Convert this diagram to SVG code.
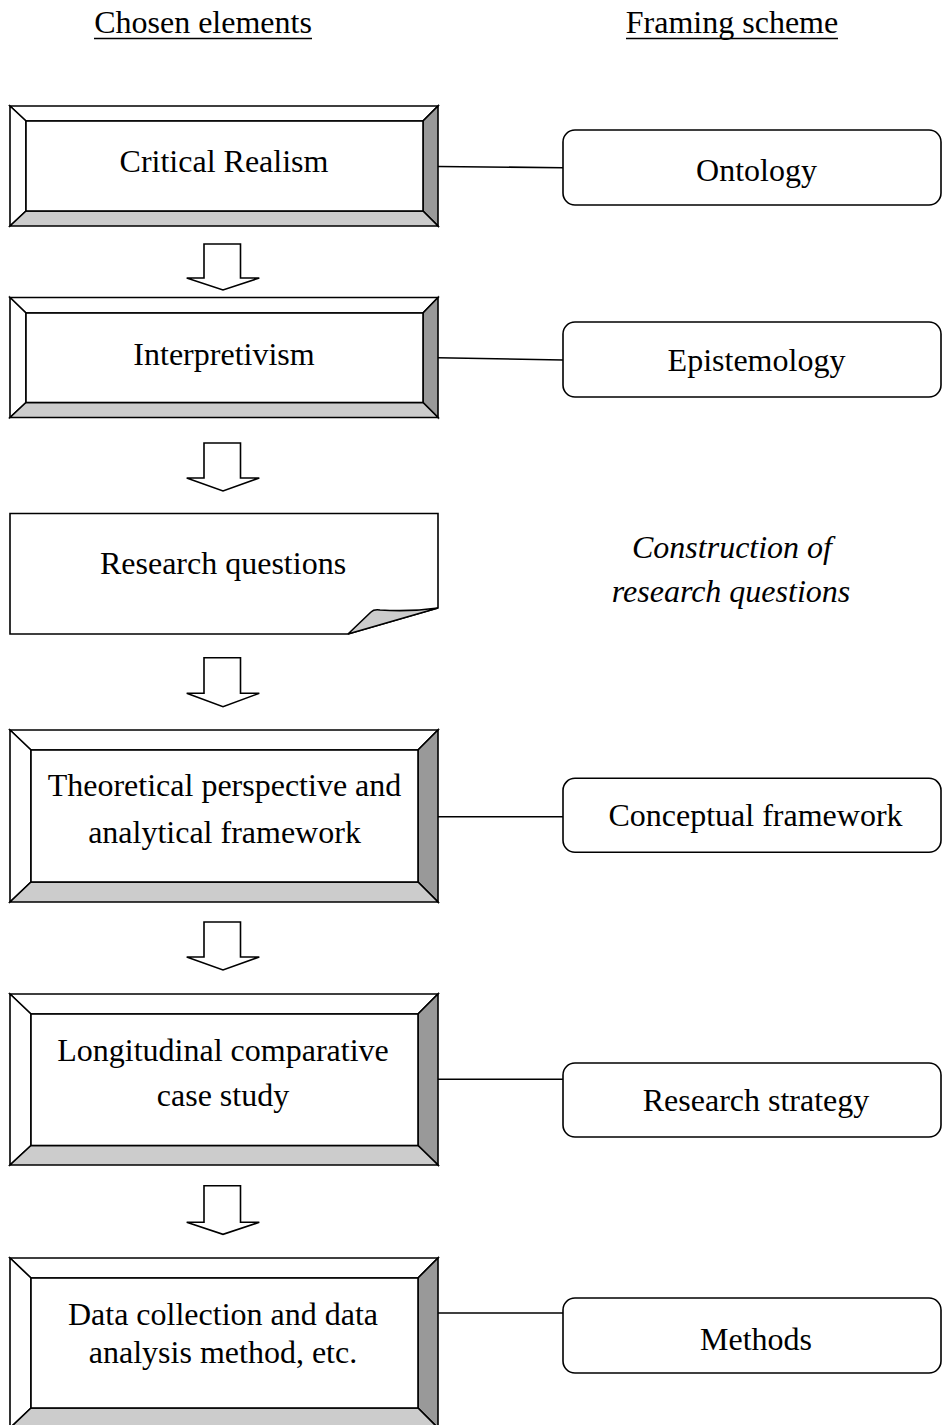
<svg xmlns="http://www.w3.org/2000/svg" width="942" height="1425" viewBox="0 0 942 1425">
<style>
text{font-family:"Liberation Serif","Times New Roman",serif;font-size:32px;fill:#000;text-anchor:middle}
.it{font-style:italic}
.s{stroke:#000;stroke-width:1.6;stroke-linejoin:miter}
.w{fill:#fff}
.d{fill:#999}
.l{fill:#ccc}
.rb{fill:#fff;stroke:#000;stroke-width:1.6}
.cn{stroke:#000;stroke-width:1.6;fill:none}
.ar{fill:#fff;stroke:#000;stroke-width:1.6;stroke-linejoin:miter}
</style>
<rect width="942" height="1425" fill="#fff"/>
<g id="headers">
<text x="203" y="33">Chosen elements</text>
<line x1="94" y1="38.5" x2="312" y2="38.5" stroke="#000" stroke-width="1.6"/>
<text x="732" y="33">Framing scheme</text>
<line x1="626" y1="38.5" x2="838" y2="38.5" stroke="#000" stroke-width="1.6"/>
</g>
<g id="connectors">
<line class="cn" x1="438" y1="166.5" x2="563" y2="167.7"/>
<line class="cn" x1="438" y1="357.7" x2="563" y2="360"/>
<line class="cn" x1="438" y1="816.7" x2="563" y2="816.7"/>
<line class="cn" x1="438" y1="1079.3" x2="563" y2="1079.3"/>
<line class="cn" x1="438" y1="1313" x2="563" y2="1313"/>
<path class="ar" d="M204,244 H240.5 V278 H259.3 L223,290 L186.7,278 H204 Z"/>
<path class="ar" d="M204,443 H240.5 V478 H259.3 L223,491 L186.7,478 H204 Z"/>
<path class="ar" d="M204,657.7 H240.5 V693.3 H259.3 L223,706.7 L186.7,693.3 H204 Z"/>
<path class="ar" d="M204,922 H240.5 V957 H259.3 L223,970 L186.7,957 H204 Z"/>
<path class="ar" d="M204,1185.7 H240.5 V1222.3 H259.3 L223,1234.3 L186.7,1222.3 H204 Z"/>
</g>
<g id="critical-realism">
<polygon class="s w" points="10,106 438,106 423,121 26,121"/>
<polygon class="s w" points="10,106 26,121 26,211 10,226"/>
<polygon class="s d" points="438,106 438,226 423,211 423,121"/>
<polygon class="s l" points="10,226 438,226 423,211 26,211"/>
<rect class="s w" x="26" y="121" width="397" height="90"/>
<text x="224" y="172.3">Critical Realism</text>
</g>
<g id="interpretivism">
<polygon class="s w" points="10,297.5 438,297.5 423,313 26,313"/>
<polygon class="s w" points="10,297.5 26,313 26,402.5 10,417.5"/>
<polygon class="s d" points="438,297.5 438,417.5 423,402.5 423,313"/>
<polygon class="s l" points="10,417.5 438,417.5 423,402.5 26,402.5"/>
<rect class="s w" x="26" y="313" width="397" height="89.5"/>
<text x="224" y="365">Interpretivism</text>
</g>
<g id="research-questions">
<path class="s w" d="M10,513.5 H438 V608 L348,634 H10 Z"/>
<path class="s l" d="M348,634 L371,612 Q374,609 380,610 Q410,612 438,608 Z"/>
<text x="223" y="574">Research questions</text>
</g>
<g id="theoretical">
<polygon class="s w" points="10,730 438,730 418,750 31,750"/>
<polygon class="s w" points="10,730 31,750 31,882 10,902"/>
<polygon class="s d" points="438,730 438,902 418,882 418,750"/>
<polygon class="s l" points="10,902 438,902 418,882 31,882"/>
<rect class="s w" x="31" y="750" width="387" height="132"/>
<text x="224.5" y="796">Theoretical perspective and</text>
<text x="224.5" y="843.3">analytical framework</text>
</g>
<g id="longitudinal">
<polygon class="s w" points="10,994 438,994 418,1014 31,1014"/>
<polygon class="s w" points="10,994 31,1014 31,1145.5 10,1165"/>
<polygon class="s d" points="438,994 438,1165 418,1145.5 418,1014"/>
<polygon class="s l" points="10,1165 438,1165 418,1145.5 31,1145.5"/>
<rect class="s w" x="31" y="1014" width="387" height="131.5"/>
<text x="223" y="1061">Longitudinal comparative</text>
<text x="223" y="1106">case study</text>
</g>
<g id="data-collection">
<polygon class="s w" points="10,1258 438,1258 418,1278 31,1278"/>
<polygon class="s w" points="10,1258 31,1278 31,1408 10,1428"/>
<polygon class="s d" points="438,1258 438,1428 418,1408 418,1278"/>
<polygon class="s l" points="10,1428 438,1428 418,1408 31,1408"/>
<rect class="s w" x="31" y="1278" width="387" height="130"/>
<text x="223" y="1325">Data collection and data</text>
<text x="223" y="1363">analysis method, etc.</text>
</g>
<g id="ontology">
<rect class="rb" x="563" y="130" width="378" height="75" rx="12"/>
<text x="756.5" y="181">Ontology</text>
</g>
<g id="epistemology">
<rect class="rb" x="563" y="322" width="378" height="75" rx="12"/>
<text x="756.5" y="370.7">Epistemology</text>
</g>
<g id="construction">
<text class="it" x="732" y="558.3">Construction of</text>
<text class="it" x="731" y="602">research questions</text>
</g>
<g id="conceptual-framework">
<rect class="rb" x="563" y="778.3" width="378" height="74" rx="12"/>
<text x="755.5" y="826">Conceptual framework</text>
</g>
<g id="research-strategy">
<rect class="rb" x="563" y="1063" width="378" height="74" rx="12"/>
<text x="756" y="1111">Research strategy</text>
</g>
<g id="methods">
<rect class="rb" x="563" y="1298" width="378" height="75" rx="12"/>
<text x="756" y="1350">Methods</text>
</g>
</svg>
